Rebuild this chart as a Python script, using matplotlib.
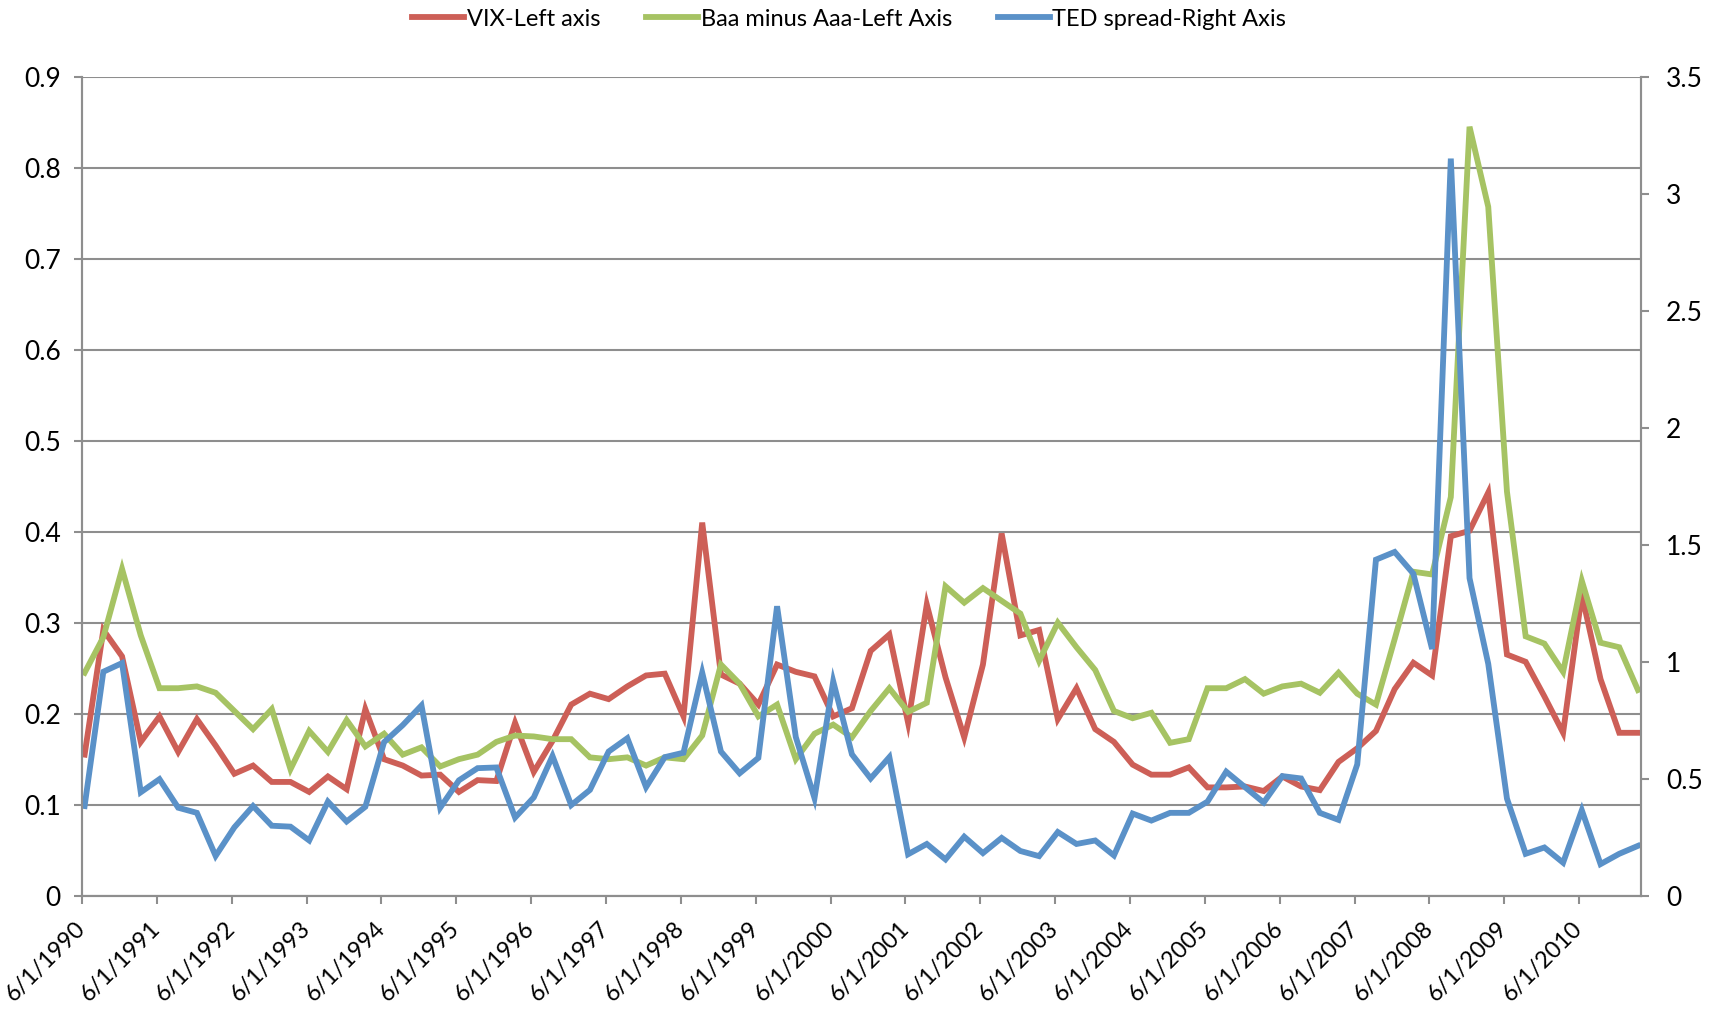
import numpy as np
import matplotlib
matplotlib.use('Agg')
import matplotlib.pyplot as plt
from matplotlib.transforms import ScaledTranslation

plt.rcParams['font.family'] = ['Lato', 'DejaVu Sans']

# quarterly data, 6/1/1990 .. 3/1/2011
years = list(range(1990, 2011))
tick_labels = ["6/1/" + str(y) for y in years]

vix = [0.155, 0.292, 0.263, 0.169, 0.197, 0.158, 0.194, 0.165, 0.134, 0.143,
       0.125, 0.125, 0.114, 0.131, 0.117, 0.205, 0.150, 0.143, 0.132, 0.133,
       0.114, 0.127, 0.126, 0.190, 0.136, 0.170, 0.210, 0.222, 0.216, 0.230,
       0.242, 0.244, 0.197, 0.410, 0.243, 0.233, 0.210, 0.254, 0.246, 0.241,
       0.197, 0.206, 0.269, 0.287, 0.190, 0.320, 0.240, 0.174, 0.254, 0.398,
       0.286, 0.292, 0.194, 0.228, 0.183, 0.169, 0.144, 0.133, 0.133, 0.141,
       0.119, 0.119, 0.120, 0.115, 0.131, 0.120, 0.116, 0.147, 0.162, 0.181,
       0.227, 0.256, 0.242, 0.395, 0.401, 0.443, 0.265, 0.257, 0.219, 0.179,
       0.331, 0.238, 0.179, 0.179]

baa_aaa = [0.245, 0.284, 0.359, 0.286, 0.228, 0.228, 0.230, 0.223, 0.203, 0.183,
           0.205, 0.139, 0.181, 0.158, 0.193, 0.164, 0.178, 0.155, 0.163, 0.142,
           0.150, 0.155, 0.169, 0.176, 0.175, 0.172, 0.172, 0.152, 0.150, 0.152,
           0.143, 0.152, 0.150, 0.176, 0.254, 0.233, 0.197, 0.210, 0.150, 0.178,
           0.188, 0.174, 0.203, 0.228, 0.202, 0.212, 0.340, 0.322, 0.338, 0.324,
           0.310, 0.258, 0.300, 0.273, 0.248, 0.203, 0.195, 0.201, 0.168, 0.172,
           0.228, 0.228, 0.238, 0.222, 0.230, 0.233, 0.223, 0.245, 0.222, 0.210,
           0.282, 0.356, 0.353, 0.438, 0.845, 0.757, 0.444, 0.285, 0.277, 0.246,
           0.346, 0.278, 0.273, 0.226]

ted = [0.383, 0.957, 0.994, 0.442, 0.498, 0.376, 0.354, 0.170, 0.292, 0.383,
       0.299, 0.295, 0.236, 0.402, 0.317, 0.380, 0.656, 0.729, 0.813, 0.376,
       0.493, 0.545, 0.548, 0.334, 0.420, 0.597, 0.387, 0.452, 0.616, 0.673,
       0.464, 0.592, 0.611, 0.953, 0.616, 0.523, 0.589, 1.237, 0.678, 0.417,
       0.916, 0.604, 0.501, 0.592, 0.177, 0.221, 0.155, 0.252, 0.182, 0.247,
       0.191, 0.169, 0.272, 0.221, 0.236, 0.172, 0.351, 0.321, 0.354, 0.354,
       0.402, 0.530, 0.464, 0.398, 0.511, 0.501, 0.354, 0.324, 0.561, 1.436,
       1.469, 1.376, 1.054, 3.150, 1.357, 0.991, 0.415, 0.179, 0.206, 0.141,
       0.365, 0.135, 0.179, 0.213]

red = '#CD5F57'
green = '#A6C363'
blue = '#5A91C8'
grey = '#8E8E8E'

x = np.arange(len(vix))
off = 0.14  # date ticks sit slightly before the data points

fig = plt.figure(figsize=(17.19, 10.09), dpi=100)
ax = fig.add_axes([0.0477, 0.1123, 0.9069, 0.8117])
ax2 = ax.twinx()

lw = 4.2
l1, = ax.plot(x, vix, color=red, lw=lw, solid_joinstyle='miter', label='VIX-Left axis')
l2, = ax.plot(x, baa_aaa, color=green, lw=lw, solid_joinstyle='miter', label='Baa minus Aaa-Left Axis')
l3, = ax2.plot(x, ted, color=blue, lw=lw, solid_joinstyle='miter', label='TED spread-Right Axis')

ax.set_xlim(-off, 83.16)
ax.set_ylim(0, 0.9)
ax2.set_ylim(0, 3.5)
ax.set_yticks(np.arange(0, 0.91, 0.1))
ax.set_yticklabels(['0'] + ['%.1f' % v for v in np.arange(0.1, 0.91, 0.1)])
ax2.set_yticks(np.arange(0, 3.51, 0.5))
ax2.set_yticklabels(['0', '0.5', '1', '1.5', '2', '2.5', '3', '3.5'])

ax.set_xticks(np.arange(0, len(x), 4) - off)
ax.set_xticklabels(tick_labels, rotation=45, ha='right', va='center',
                   rotation_mode='anchor', fontsize=16.8)
shift = ScaledTranslation(10 / 100, 0, fig.dpi_scale_trans)
for lab in ax.get_xticklabels():
    lab.set_transform(lab.get_transform() + shift)

ax.yaxis.grid(True, color=grey, lw=1.5)
ax.set_axisbelow(True)

for a in (ax, ax2):
    a.spines['top'].set_visible(False)
    for s in ('left', 'right', 'bottom'):
        a.spines[s].set_color(grey)
        a.spines[s].set_linewidth(1.5)
    a.tick_params(colors=grey, labelcolor='black', width=1.5, length=5.5, direction='out')
    a.tick_params(axis='y', labelsize=19)
ax.tick_params(axis='y', pad=9.7)
ax2.tick_params(axis='y', pad=12.5)
ax.tick_params(axis='x', pad=16)

fig.legend(handles=[l1, l2, l3], loc='center', bbox_to_anchor=(0.494, 0.981), ncol=3,
           frameon=False, fontsize=17, handlelength=2.2, handletextpad=0.1, columnspacing=1.95)

fig.savefig('out.png', dpi=100)
